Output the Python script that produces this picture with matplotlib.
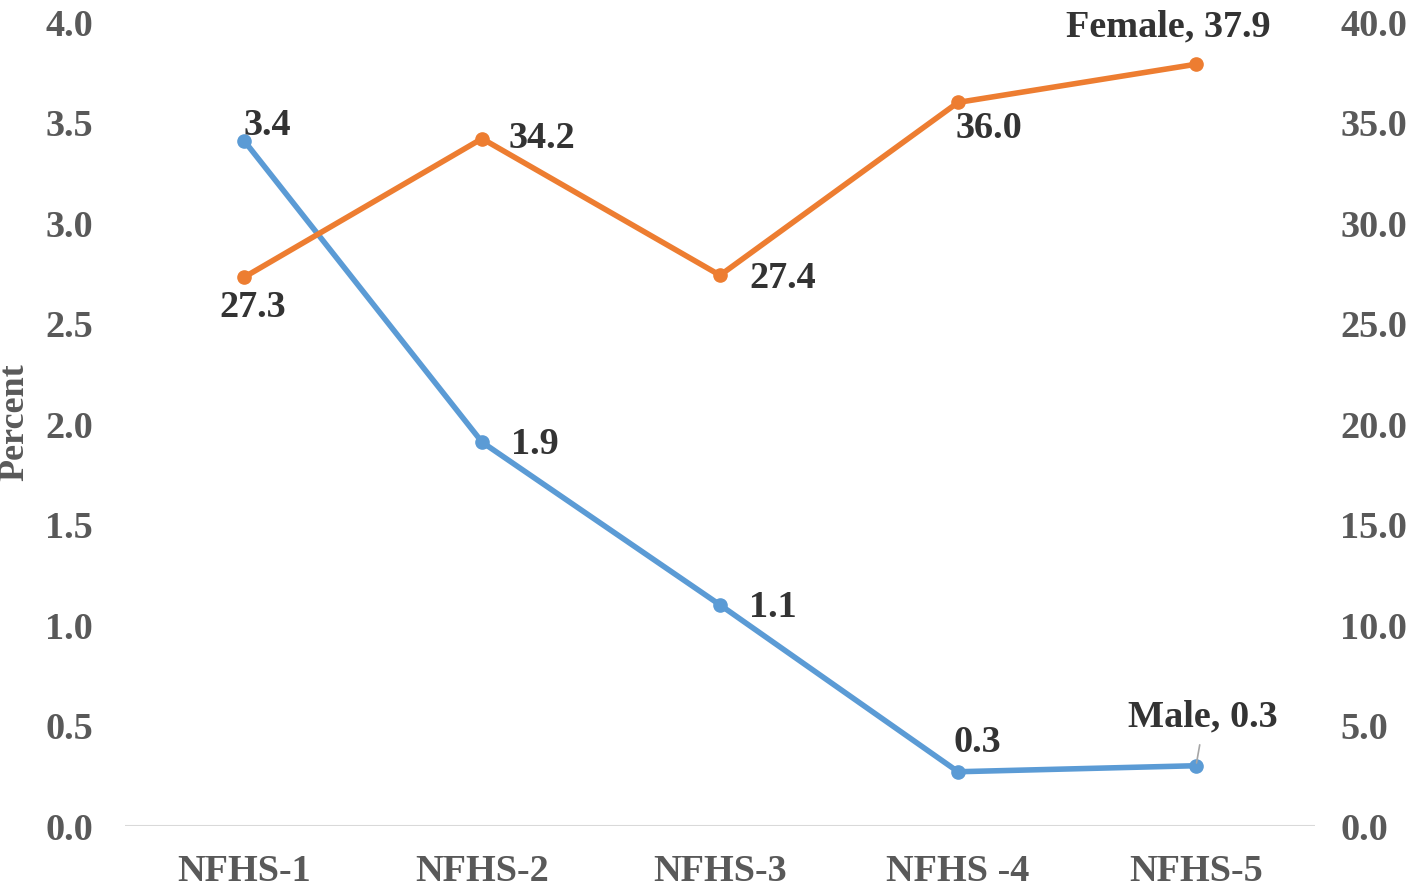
import matplotlib
matplotlib.use('Agg')
import matplotlib.pyplot as plt

plt.rcParams['font.family'] = 'Liberation Serif'
plt.rcParams['font.weight'] = 'bold'

rounds = ['NFHS-1', 'NFHS-2', 'NFHS-3', 'NFHS -4', 'NFHS-5']
male = [3.41, 1.91, 1.10, 0.27, 0.30]
female = [27.3, 34.2, 27.4, 36.0, 37.9]
male_labels = ['3.4', '1.9', '1.1', '0.3', 'Male, 0.3']
female_labels = ['27.3', '34.2', '27.4', '36.0', 'Female, 37.9']

# label offsets in points (dx, dy) from the marker
male_off = [(17, 11), (38, -1.5), (38, -1.5), (14, 21), (5, 35)]
female_off = [(6, -22), (43, 0), (45, -2), (22, -19), (-20, 27)]

blue = '#5B9BD5'
orange = '#ED7D31'
tick_col = '#595959'
lab_col = '#333333'
fs = 27.5

fig = plt.figure(figsize=(14.16, 8.88), dpi=100)
ax = fig.add_axes([0.0883, 0.0698, 0.8404, 0.9054])
ax2 = ax.twinx()

x = list(range(len(rounds)))
ax.plot(x, male, color=blue, lw=4, marker='o', ms=9.5, zorder=3)
ax2.plot(x, female, color=orange, lw=4, marker='o', ms=9.5, zorder=3)

ax.set_xlim(-0.5, 4.5)
ax.set_ylim(0, 4)
ax2.set_ylim(0, 40)
ax.set_yticks([i * 0.5 for i in range(9)])
ax.set_yticklabels([f'{i * 0.5:.1f}' for i in range(9)])
ax2.set_yticks([i * 5 for i in range(9)])
ax2.set_yticklabels([f'{i * 5:.1f}' for i in range(9)])
ax.set_xticks(x)
ax.set_xticklabels(rounds)

for a in (ax, ax2):
    for s in a.spines.values():
        s.set_visible(False)
    a.tick_params(length=0, labelsize=fs, colors=tick_col)
ax.tick_params(axis='y', pad=23)
ax2.tick_params(axis='y', pad=18)
ax.tick_params(axis='x', pad=20)
ax.axhline(0, color='#D9D9D9', lw=1.5, zorder=1)

fig.text(15 / 1416, 1 - 422 / 888, 'Percent', rotation=90, ha='center', va='center',
         fontsize=26, color=tick_col, fontweight='bold')

for i, (v, t, o) in enumerate(zip(male, male_labels, male_off)):
    ax.annotate(t, (i, v), xytext=o, textcoords='offset points', ha='center', va='center',
                fontsize=fs, color=lab_col, fontweight='bold', zorder=5)
for i, (v, t, o) in enumerate(zip(female, female_labels, female_off)):
    ax2.annotate(t, (i, v), xytext=o, textcoords='offset points', ha='center', va='center',
                 fontsize=fs, color=lab_col, fontweight='bold', zorder=5)

# leader line for the Male end label
ax.annotate('', (4, male[4]), xytext=(3, 17), textcoords='offset points',
            arrowprops=dict(arrowstyle='-', color='#A6A6A6', lw=1.2))

fig.savefig('out.png', dpi=100)
